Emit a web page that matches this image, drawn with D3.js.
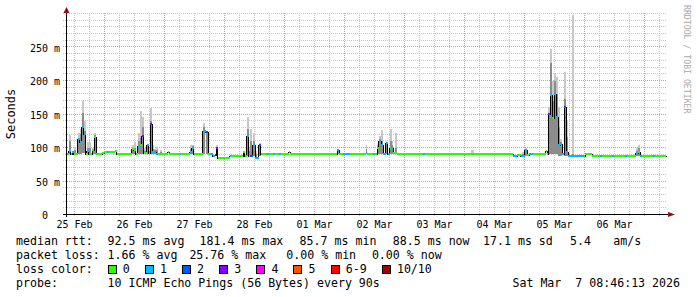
<!DOCTYPE html>
<html>
<head>
<meta charset="utf-8">
<script src="https://cdn.jsdelivr.net/npm/d3@7"></script>
<style>
  html, body { margin: 0; padding: 0; background: #fff; }
  svg { display: block; font-family: "DejaVu Sans Mono", monospace; }
  text { white-space: pre; }
</style>
</head>
<body>
<div id="chart"></div>
<script>
// graph window: 10 days ending at the timestamp in the footer
var graphStart = new Date(Date.UTC(2026, 1, 25, 8, 46, 13));
var graphEnd = new Date(Date.UTC(2026, 2, 7, 8, 46, 13));

// median rtt: hours since graphStart, rtt in ms, lost pings (of 10)
var medHour = [0, 0.6, 1.0, 1.8, 2.4, 3.0, 4.6, 5.4, 6.2, 7.0, 7.8, 8.2, 9.0, 10.4, 11.2, 12.0,
  13.6, 14.4, 15.2, 16.4, 17.2, 19.4, 20.2, 26.2, 27.0, 27.8, 28.6, 29.4, 30.2, 31.0, 32.2, 33.0,
  33.6, 34.4, 35.2, 36.0, 36.8, 40.6, 41.2, 45.4, 46.0, 49.4, 50.2, 51.0, 54.6, 55.8, 56.8, 57.6,
  58.6, 59.4, 60.0, 60.6, 65.4, 66.0, 70.8, 71.4, 72.2, 73.0, 73.6, 74.6, 75.6, 77.0, 77.8, 80.4,
  81.2, 82.8, 83.6, 85.2, 86.0, 89.0, 89.6, 108.4, 109.2, 110.8, 113.6, 119.8, 120.4, 122.8, 123.4,
  124.4, 125.2, 126.0, 126.8, 127.8, 128.8, 129.4, 130.0, 130.8, 131.6, 132.4, 142.8, 143.6, 178.8,
  180.4, 181.8, 183.4, 184.4, 185.2, 186.8, 191.8, 192.4, 192.8, 193.6, 194.4, 195.2, 196.0, 196.8,
  197.6, 198.4, 199.2, 200.0, 200.8, 207.2, 207.6, 210.4, 213.6, 214.2, 218.4, 219.0, 223.6, 224.2,
  228.0, 228.8, 229.6, 230.4, 234.8, 235.4];
var medRtt = [90, 90, 95, 90, 94, 90, 113, 108, 130, 120, 90, 95, 90, 97, 116, 90,
  91, 92, 93, 94, 94, 95, 90, 98, 97, 90, 102, 103, 117, 92, 103, 92,
  135, 94, 94, 91, 90, 94, 90, 91, 90, 93, 100, 90, 125, 123, 90, 90,
  88, 89, 100, 85, 87, 87, 94, 87, 117, 87, 88, 103, 85, 103, 90, 90,
  90, 90, 90, 90, 90, 94, 90, 96, 90, 90, 90, 92, 90, 90, 90,
  100, 110, 103, 90, 107, 90, 100, 100, 92, 92, 90, 90, 90, 88,
  89, 88, 97, 89, 90, 90, 95, 90, 150, 178, 144, 180, 146, 103,
  105, 90, 160, 94, 88, 88, 91, 88, 88, 88, 88, 88, 88, 88,
  92, 94, 88, 88, 88, 88];
var medLoss = [1, 0, 1, 0, 1, 0, 1, 1, 1, 1, 0, 1, 0, 0, 0, 0,
  0, 0, 0, 1, 0, 0, 0, 0, 0, 0, 1, 0, 3, 0, 1, 0,
  3, 1, 1, 1, 0, 0, 0, 1, 0, 1, 1, 0, 1, 2, 0, 1,
  1, 3, 3, 0, 1, 0, 0, 0, 1, 0, 2, 1, 1, 2, 0, 1,
  0, 1, 0, 1, 0, 0, 0, 1, 0, 1, 0, 1, 0, 1, 0,
  0, 1, 1, 1, 1, 1, 0, 1, 0, 0, 0, 1, 0, 1,
  0, 1, 1, 0, 1, 0, 0, 0, 2, 1, 0, 1, 1, 1,
  1, 1, 2, 1, 1, 0, 0, 0, 1, 0, 1, 0, 1, 0,
  1, 0, 1, 0, 1, 0];

// smoke (spread of the 10 pings) where it shows: hours, lowest, inner band top, highest (ms)
var smokeHour = [1.0, 3.2, 4.6, 5.4, 6.2, 7.0, 8.2, 9.0, 10.4, 11.2, 26.2, 27.0, 28.6, 29.4, 30.2,
  31.0, 32.2, 33.0, 33.6, 34.4, 35.2, 36.0, 37.4, 49.4, 50.2, 54.6, 55.8, 60.0, 72.2, 73.0, 73.6,
  74.6, 75.6, 77.0, 108.4, 119.8, 124.4, 125.2, 126.0, 127.8, 129.4, 130.0, 131.6, 162.2, 182.2,
  183.4, 192.8, 193.6, 194.4, 195.2, 196.0, 196.8, 197.6, 199.2, 200.0, 202.2, 228.0, 228.8];
var smokeLow = [90, 90, 90, 90, 92, 92, 90, 90, 90, 90, 90, 90, 90, 90, 90,
  90, 90, 90, 90, 90, 90, 90, 90, 90, 90, 90, 90, 88, 88, 88, 88,
  88, 85, 88, 90, 90, 90, 90, 90, 90, 90, 90, 90, 90, 88,
  88, 90, 90, 90, 90, 90, 88, 88, 88, 88, 88, 88, 88];
var smokeMid = [110, 96, 114, 120, 151, 125, 100, 100, 98, 118, 100, 100, 110, 114, 130,
  95, 103, 95, 140, 98, 96, 96, 93, 98, 102, 130, 124, 100, 128, 95, 110,
  110, 90, 105, 96, 98, 102, 112, 110, 107, 110, 104, 100, 92, 90,
  98, 150, 226, 170, 200, 180, 130, 108, 173, 115, 90, 95, 100];
var smokeHigh = [119, 101, 121, 128, 169, 140, 108, 108, 100, 122, 104, 108, 122, 155, 146,
  100, 104, 100, 159, 103, 98, 101, 97, 103, 104, 137, 125, 104, 145, 100, 128,
  121, 95, 107, 97, 104, 105, 117, 126, 108, 128, 110, 121, 96, 94,
  100, 160, 247, 200, 211, 205, 160, 112, 212, 140, 298, 99, 104];

// y axis ticks (ms) and legend contents
var yLabelTicks = [0, 50, 100, 150, 200, 250];
var lossColors = ["#26ff00", "#00b8ff", "#0059ff", "#7e00ff", "#ff00ff", "#ff5500", "#ff0000", "#a10000"];
var lossLabels = ["0", "1", "2", "3", "4", "5", "6-9", "10/10"];
var rttStats = ["median rtt:", "92.5 ms avg", "181.4 ms max", "85.7 ms min", "88.5 ms now", "17.1 ms sd", "5.4", "am/s"];
var lossStats = ["packet loss:", "1.66 % avg", "25.76 % max", "0.00 % min", "0.00 % now"];
var probeText = ["probe:", "10 ICMP Echo Pings (56 Bytes) every 90s"];
var stampText = "Sat Mar  7 08:46:13 2026";

var W = 697, H = 297;
var svg = d3.select("#chart").append("svg")
    .attr("width", W)
    .attr("height", H);
svg.append("rect").attr("width", W).attr("height", H).attr("fill", "#fff");

var x = d3.scaleUtc().domain([graphStart, graphEnd]).range([66, 666]);
var y = d3.scaleLinear().domain([0, 300]).range([214.5, 13.5]);
var lossColor = d3.scaleThreshold().domain([1, 2, 3, 4, 5, 6, 10]).range(lossColors);

function at(h) { return new Date(graphStart.getTime() + h * 3600e3); }
function px(v) { return Math.floor(v) + 0.5; }

// grid
var grid = svg.append("g").attr("shape-rendering", "crispEdges");
var hMinor = d3.range(10, 301, 10).filter(function(v) { return v % 50 != 0 || v == 300; });
var hMajor = d3.range(50, 251, 50);
grid.selectAll(".hmin").data(hMinor).enter().append("line")
  .attr("x1", 63).attr("x2", 666)
  .attr("y1", function(d) { return px(y(d)); }).attr("y2", function(d) { return px(y(d)); })
  .attr("stroke", "#c8c8c8").attr("stroke-dasharray", "1,1");
var sixHours = d3.utcHour.every(6).range(graphStart, graphEnd);
grid.selectAll(".vmin").data(sixHours.filter(function(d) { return d.getUTCHours() != 0; })).enter().append("line")
  .attr("x1", function(d) { return px(x(d)); }).attr("x2", function(d) { return px(x(d)); })
  .attr("y1", 13).attr("y2", 217)
  .attr("stroke", "#c8c8c8").attr("stroke-dasharray", "1,1");
grid.selectAll(".hmaj").data(hMajor).enter().append("line")
  .attr("x1", 63).attr("x2", 666)
  .attr("y1", function(d) { return px(y(d)); }).attr("y2", function(d) { return px(y(d)); })
  .attr("stroke", "#f08c8c").attr("stroke-dasharray", "1,1");
grid.selectAll(".vmaj").data(d3.utcDay.range(graphStart, graphEnd)).enter().append("line")
  .attr("x1", function(d) { return px(x(d)); }).attr("x2", function(d) { return px(x(d)); })
  .attr("y1", 13).attr("y2", 217)
  .attr("stroke", "#f08c8c").attr("stroke-dasharray", "1,1");

// smoke
var smoke = smokeHour.map(function(h, i) {
  return {h: h, lo: smokeLow[i], mid: smokeMid[i], hi: smokeHigh[i]};
});
var sm = svg.append("g").attr("shape-rendering", "crispEdges");
sm.selectAll(".outer").data(smoke).enter().append("rect")
  .attr("x", function(d) { return Math.round(x(at(d.h))); })
  .attr("width", function(d) { return Math.max(1, Math.round(x(at(d.h + 0.8))) - Math.round(x(at(d.h)))); })
  .attr("y", function(d) { return Math.round(y(d.hi)); })
  .attr("height", function(d) { return Math.round(y(d.lo)) - Math.round(y(d.hi)); })
  .attr("fill", "#c8c8c8");
sm.selectAll(".inner").data(smoke).enter().append("rect")
  .attr("x", function(d) { return Math.round(x(at(d.h))); })
  .attr("width", function(d) { return Math.max(1, Math.round(x(at(d.h + 0.8))) - Math.round(x(at(d.h)))); })
  .attr("y", function(d) { return Math.round(y(d.mid)); })
  .attr("height", function(d) { return Math.max(0, Math.round(y(d.lo)) - Math.round(y(d.mid))); })
  .attr("fill", "#8c8c8c");

// median: black connecting steps, then loss-coloured segments
var med = medHour.map(function(h, i) { return {h: h, v: medRtt[i], loss: medLoss[i]}; });
var stepPts = med.concat([{h: 240, v: med[med.length - 1].v}]);
svg.append("path")
  .attr("d", d3.line()
    .x(function(d) { return px(x(at(d.h))); })
    .y(function(d) { return Math.round(y(d.v)); })
    .curve(d3.curveStepAfter)(stepPts))
  .attr("fill", "none").attr("stroke", "#000").attr("stroke-width", 1)
  .attr("shape-rendering", "crispEdges");
svg.append("g").attr("shape-rendering", "crispEdges")
  .selectAll("line").data(med).enter().append("line")
  .attr("x1", function(d) { return Math.round(x(at(d.h))); })
  .attr("x2", function(d, i) { return Math.round(x(at(i + 1 < med.length ? med[i + 1].h : 240))); })
  .attr("y1", function(d) { return Math.round(y(d.v)); })
  .attr("y2", function(d) { return Math.round(y(d.v)); })
  .attr("stroke", function(d) { return lossColor(d.loss); })
  .attr("stroke-width", 2);

// axes
var noons = d3.utcDay.range(d3.utcDay.floor(graphStart), graphEnd)
  .map(function(d) { return d3.utcHour.offset(d, 12); })
  .filter(function(d) { return d > graphStart && d < graphEnd; });
var xAxis = svg.append("g")
  .attr("transform", "translate(0," + y(0) + ")")
  .call(d3.axisBottom(x).tickValues(noons).tickSize(0).tickPadding(6.5).tickFormat(d3.utcFormat("%d %b")));
xAxis.select(".domain").remove();
xAxis.selectAll("text").attr("font-family", "DejaVu Sans Mono").attr("font-size", 10).attr("fill", "#000");

var yAxis = svg.append("g")
  .attr("transform", "translate(66,0)")
  .call(d3.axisLeft(y).tickValues(yLabelTicks).tickSize(0).tickPadding(6)
    .tickFormat(function(d) { return d == 0 ? "0\u00a0\u00a0" : d + " m"; }));
yAxis.select(".domain").remove();
yAxis.selectAll("text").attr("font-family", "DejaVu Sans Mono").attr("font-size", 10)
  .attr("fill", "#000").attr("dy", "0.42em");

var ax = svg.append("g").attr("shape-rendering", "crispEdges");
ax.append("line").attr("x1", 63).attr("x2", 668).attr("y1", px(y(0))).attr("y2", px(y(0)))
  .attr("stroke", "#000");
ax.append("line").attr("x1", 66.5).attr("x2", 66.5).attr("y1", 217).attr("y2", 12)
  .attr("stroke", "#000");
svg.append("path").attr("d", "M668,212L675,214.5L668,217Z").attr("fill", "#8b1010");
svg.append("path").attr("d", "M63.5,13L66.5,7L69.5,13Z").attr("fill", "#8b1010");

svg.append("text")
  .attr("transform", "translate(15,114) rotate(-90)")
  .attr("text-anchor", "middle").attr("font-size", 12).attr("fill", "#000")
  .text("Seconds");
svg.append("text")
  .attr("transform", "translate(684,5) rotate(90)")
  .attr("font-size", 8.2).attr("fill", "#aaa")
  .text("RRDTOOL / TOBI OETIKER");

// legend
var leg = svg.append("g").attr("font-size", 11.6).attr("fill", "#000");
var rttX = [16, 107.6, 199.6, 299.6, 392.8, 483, 570, 613.3];
var lossX = [16, 107.6, 189.4, 286.3, 371.9];
leg.selectAll(".rtt").data(rttStats).enter().append("text")
  .attr("x", function(d, i) { return rttX[i]; }).attr("y", 245).text(function(d) { return d; });
leg.selectAll(".loss").data(lossStats).enter().append("text")
  .attr("x", function(d, i) { return lossX[i]; }).attr("y", 259).text(function(d) { return d; });
leg.append("text").attr("x", 16).attr("y", 273).text("loss color:");
var cw = 6.98, bx = 107.5;
lossLabels.forEach(function(lab, i) {
  leg.append("rect").attr("x", bx + 0.5).attr("y", 265.5).attr("width", 8).attr("height", 8)
    .attr("fill", lossColors[i]).attr("stroke", "#000").attr("shape-rendering", "crispEdges");
  leg.append("text").attr("x", bx + 15.2).attr("y", 273).text(lab);
  bx = bx + 15.2 + lab.length * cw + 15;
});
leg.append("text").attr("x", 16).attr("y", 287).text(probeText[0]);
leg.append("text").attr("x", 107.6).attr("y", 287).text(probeText[1]);
leg.append("text").attr("x", 680).attr("y", 287).attr("text-anchor", "end").text(stampText);
</script>
</body>
</html>
